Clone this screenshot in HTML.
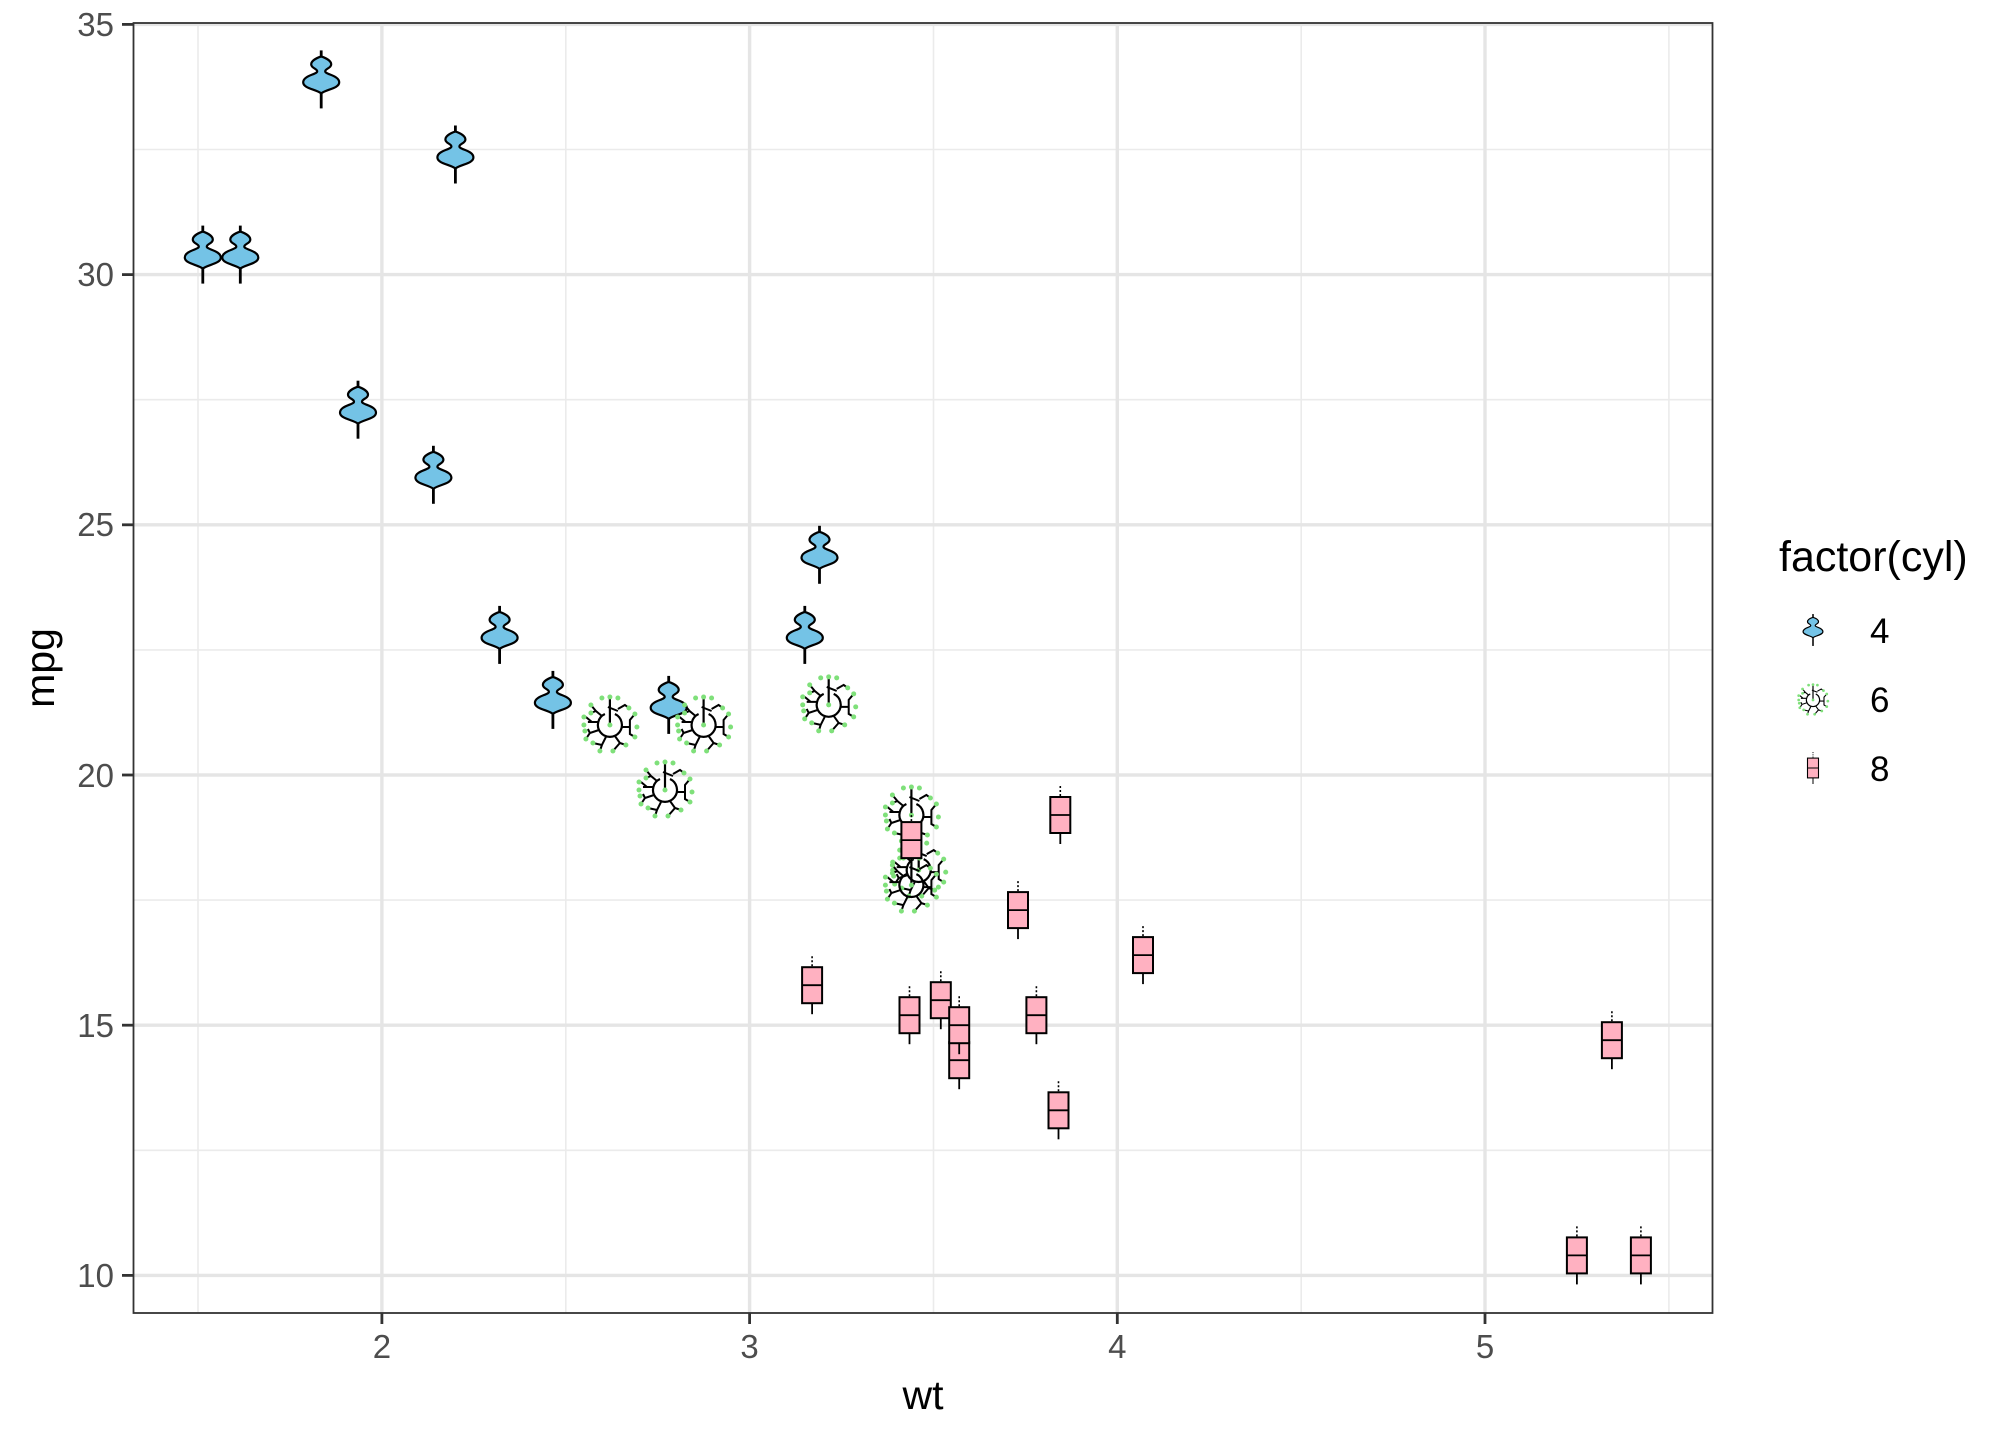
<!DOCTYPE html>
<html><head><meta charset="utf-8"><style>
html,body{margin:0;padding:0;background:#fff}
svg{display:block;font-family:"Liberation Sans",Arial,sans-serif}
</style></head><body>
<svg width="2016" height="1440" viewBox="0 0 2016 1440" xmlns="http://www.w3.org/2000/svg">
<defs>
<g id="vio">
<line x1="0" y1="-29" x2="0" y2="-21" stroke="#000" stroke-width="2.8"/>
<line x1="0" y1="13" x2="0" y2="29" stroke="#000" stroke-width="2.8"/>
<path d="M0,-23 C6,-21 10,-18 10,-15 C10,-11 4,-11 4,-8 C4,-5 18,-4 18,3 C18,9 5,10 0,14 C-5,10 -18,9 -18,3 C-18,-4 -4,-5 -4,-8 C-4,-11 -10,-11 -10,-15 C-10,-18 -6,-21 0,-23 Z" fill="#74c3e6" stroke="#000" stroke-width="2.2"/>
</g>
<g id="box">
<line x1="0" y1="-29" x2="0" y2="-18" stroke="#000" stroke-width="1.6" stroke-dasharray="2,2"/>
<line x1="0" y1="18" x2="0" y2="29" stroke="#000" stroke-width="1.8"/>
<rect x="-10" y="-18" width="20" height="36" fill="#ffb1c1" stroke="#000" stroke-width="2"/>
<line x1="-10" y1="0" x2="10" y2="0" stroke="#000" stroke-width="1.8"/>
</g>
<g id="star">
<path d="M-5,-11 A12,12 0 1 0 5,-11" fill="none" stroke="#000" stroke-width="2.2"/>
<line x1="0" y1="0" x2="0" y2="-28" stroke="#000" stroke-width="2.2"/>
<g stroke="#000" stroke-width="2" fill="none">
<path d="M8,-16 L15,-20 L19,-17"/>
<path d="M-8,-9 L-14,-14 L-19,-20 M-14,-14 L-19,-12"/>
<path d="M-12,-3 L-22,-3 M-18,-3 L-24,-8"/>
<path d="M-11,5 L-20,8 L-24,14 M-20,8 L-22,4"/>
<path d="M-4,12 L-8,20 L-17,18 M-8,20 L-10,26"/>
<path d="M5,11 L10,18 L16,20 M10,18 L3,26"/>
<path d="M12,2 L20,2 L20,9 L25,12 M20,2 L20,-5 L25,-11"/>
<path d="M8,-14 L-2,-18"/>
</g>
<g fill="#7fe07a">
<circle cx="0" cy="0" r="2.5"/><circle cx="0" cy="-28" r="2.5"/>
<circle cx="-8" cy="-27" r="2.5"/><circle cx="8" cy="-27" r="2.5"/>
<circle cx="19" cy="-17" r="2.5"/><circle cx="-19" cy="-20" r="2.5"/>
<circle cx="-19" cy="-12" r="2.5"/><circle cx="-26" cy="-8" r="2.5"/>
<circle cx="-26" cy="0" r="2.5"/><circle cx="-24" cy="14" r="2.5"/>
<circle cx="-25" cy="6" r="2.5"/><circle cx="-17" cy="18" r="2.5"/>
<circle cx="-10" cy="26" r="2.5"/><circle cx="3" cy="26" r="2.5"/>
<circle cx="16" cy="20" r="2.5"/><circle cx="25" cy="12" r="2.5"/>
<circle cx="27" cy="2" r="2.5"/><circle cx="25" cy="-11" r="2.5"/>
</g>
</g>
</defs>
<rect x="0" y="0" width="2016" height="1440" fill="#fff"/>
<g stroke="#ebebeb" stroke-width="1.6">
<line x1="198" y1="23" x2="198" y2="1313"/><line x1="565.8" y1="23" x2="565.8" y2="1313"/>
<line x1="933.5" y1="23" x2="933.5" y2="1313"/><line x1="1301.2" y1="23" x2="1301.2" y2="1313"/>
<line x1="1668.9" y1="23" x2="1668.9" y2="1313"/>
<line x1="133.5" y1="149.5" x2="1712.5" y2="149.5"/><line x1="133.5" y1="399.7" x2="1712.5" y2="399.7"/>
<line x1="133.5" y1="649.9" x2="1712.5" y2="649.9"/><line x1="133.5" y1="900.1" x2="1712.5" y2="900.1"/>
<line x1="133.5" y1="1150.3" x2="1712.5" y2="1150.3"/>
</g>
<g stroke="#e5e5e5" stroke-width="3.4">
<line x1="381.9" y1="23" x2="381.9" y2="1313"/><line x1="749.6" y1="23" x2="749.6" y2="1313"/>
<line x1="1117.3" y1="23" x2="1117.3" y2="1313"/><line x1="1485" y1="23" x2="1485" y2="1313"/>
<line x1="133.5" y1="24.4" x2="1712.5" y2="24.4"/><line x1="133.5" y1="274.6" x2="1712.5" y2="274.6"/>
<line x1="133.5" y1="524.8" x2="1712.5" y2="524.8"/><line x1="133.5" y1="775" x2="1712.5" y2="775"/>
<line x1="133.5" y1="1025.2" x2="1712.5" y2="1025.2"/><line x1="133.5" y1="1275.4" x2="1712.5" y2="1275.4"/>
</g>
<use href="#vio" x="499.6" y="634.9"/><use href="#vio" x="819.5" y="554.8"/>
<use href="#vio" x="804.8" y="634.9"/><use href="#vio" x="455.4" y="154.5"/>
<use href="#vio" x="240.3" y="254.6"/><use href="#vio" x="321.2" y="79.4"/>
<use href="#vio" x="552.9" y="699.9"/><use href="#vio" x="358" y="409.7"/>
<use href="#vio" x="433.4" y="474.8"/><use href="#vio" x="202.8" y="254.6"/>
<use href="#vio" x="668.7" y="704.9"/>
<use href="#star" x="609.9" y="725"/><use href="#star" x="703.6" y="725"/>
<use href="#star" x="828.7" y="704.9"/><use href="#star" x="918.7" y="870.1"/>
<use href="#star" x="911.4" y="815"/><use href="#star" x="911.4" y="885.1"/>
<use href="#star" x="665" y="790"/>
<use href="#box" x="911.4" y="840.1"/><use href="#box" x="959.2" y="1060.2"/>
<use href="#box" x="1143" y="955.1"/><use href="#box" x="1018" y="910.1"/>
<use href="#box" x="1036.4" y="1015.2"/><use href="#box" x="1576.9" y="1255.4"/>
<use href="#box" x="1640.9" y="1255.4"/><use href="#box" x="1611.9" y="1040.2"/>
<use href="#box" x="940.8" y="1000.2"/><use href="#box" x="909.5" y="1015.2"/>
<use href="#box" x="1058.5" y="1110.3"/><use href="#box" x="1060.3" y="815"/>
<use href="#box" x="812.1" y="985.2"/><use href="#box" x="959.2" y="1025.2"/>
<rect x="133.5" y="23" width="1579" height="1290" fill="none" stroke="#333" stroke-width="1.8"/>
<g stroke="#333" stroke-width="2.8">
<line x1="122" y1="24.4" x2="133.5" y2="24.4"/><line x1="122" y1="274.6" x2="133.5" y2="274.6"/>
<line x1="122" y1="524.8" x2="133.5" y2="524.8"/><line x1="122" y1="775" x2="133.5" y2="775"/>
<line x1="122" y1="1025.2" x2="133.5" y2="1025.2"/><line x1="122" y1="1275.4" x2="133.5" y2="1275.4"/>
<line x1="381.9" y1="1313" x2="381.9" y2="1324"/><line x1="749.6" y1="1313" x2="749.6" y2="1324"/>
<line x1="1117.3" y1="1313" x2="1117.3" y2="1324"/><line x1="1485" y1="1313" x2="1485" y2="1324"/>
</g>
<g fill="#4d4d4d" font-size="33" text-anchor="end">
<text x="114" y="36">35</text><text x="114" y="286">30</text><text x="114" y="536">25</text>
<text x="114" y="787">20</text><text x="114" y="1037">15</text><text x="114" y="1287">10</text>
</g>
<g fill="#4d4d4d" font-size="33" text-anchor="middle">
<text x="381.9" y="1358">2</text><text x="749.6" y="1358">3</text>
<text x="1117.3" y="1358">4</text><text x="1485" y="1358">5</text>
</g>
<text x="923" y="1409" font-size="41" text-anchor="middle">wt</text>
<text transform="translate(54,668) rotate(-90)" font-size="41" text-anchor="middle">mpg</text>
<text x="1779" y="571" font-size="43">factor(cyl)</text>
<g transform="translate(1813,630) scale(0.55)"><use href="#vio"/></g>
<g transform="translate(1813,700) scale(0.55)"><use href="#star"/></g>
<g transform="translate(1813,768) scale(0.55)"><use href="#box"/></g>
<g font-size="35">
<text x="1870" y="643">4</text><text x="1870" y="712">6</text><text x="1870" y="781">8</text>
</g>
</svg>
</body></html>
